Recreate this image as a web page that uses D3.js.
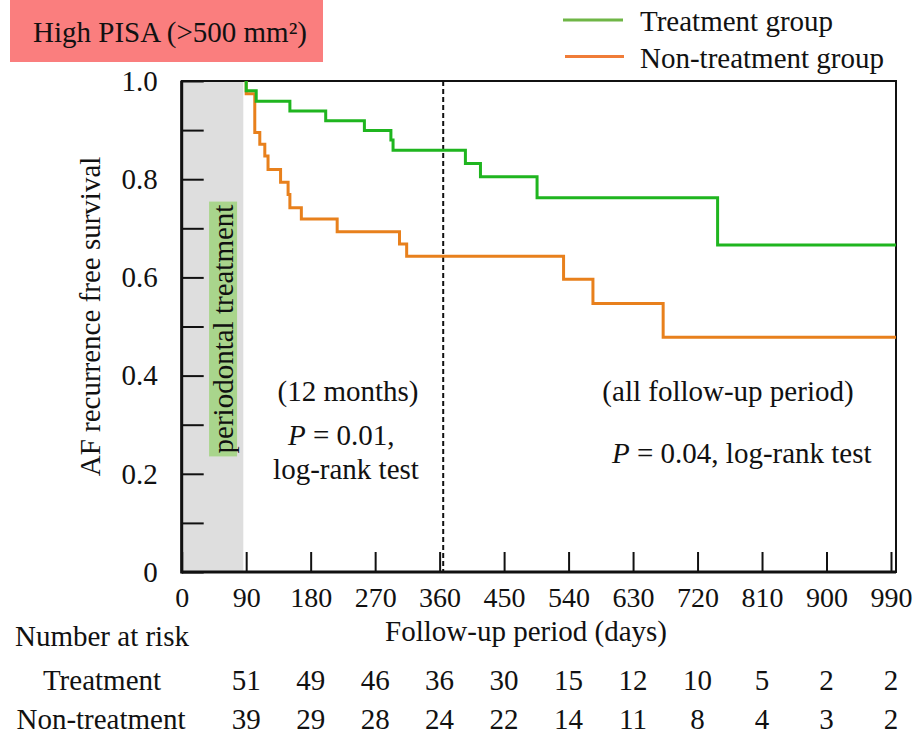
<!DOCTYPE html>
<html>
<head>
<meta charset="utf-8">
<script src="https://cdn.jsdelivr.net/npm/d3@7"></script>
<style>
  html, body { margin: 0; padding: 0; background: #fff; }
  svg text { font-family: "Liberation Serif", "Times New Roman", serif; fill: #111; }
</style>
</head>
<body>
<svg id="chart" width="914" height="735"></svg>
<script>
// Kaplan–Meier step points: [day, survival]
const treatmentSteps = [
  [90, 1.0], [90, 0.980], [104, 0.959], [151, 0.939], [201, 0.919],
  [255, 0.899], [292, 0.880], [295, 0.859], [396, 0.832], [417, 0.805],
  [496, 0.762], [748, 0.666], [997, 0.666]
];
const nonTreatmentSteps = [
  [90, 1.0], [90, 0.974], [102, 0.895], [109, 0.871], [116, 0.847],
  [120.5, 0.820], [138, 0.794], [148.5, 0.769], [151, 0.742], [167, 0.719],
  [217, 0.693], [304, 0.668], [314, 0.643], [533, 0.596], [574, 0.547],
  [672, 0.478], [997, 0.478]
];

// Axis ticks
const xTickValues = [0, 90, 180, 270, 360, 450, 540, 630, 720, 810, 900, 990];
const yTickValues = [0, 0.1, 0.2, 0.3, 0.4, 0.5, 0.6, 0.7, 0.8, 0.9, 1.0];

// Number at risk table
const riskTimes = [90, 180, 270, 360, 450, 540, 630, 720, 810, 900, 990];
const riskTreatment = [51, 49, 46, 36, 30, 15, 12, 10, 5, 2, 2];
const riskNonTreatment = [39, 29, 28, 24, 22, 14, 11, 8, 4, 3, 2];

// Periods
const followUpEnd = 997;
const periodontalEnd = 86;
const twelveMonths = 365;

const svg = d3.select("#chart");
const FS = 29;
const TICK_FS = 28;

const x = d3.scaleLinear().domain([0, followUpEnd]).range([181.7, 896]);
const y = d3.scaleLinear().domain([0, 1]).range([572, 81]);

const GREEN = "#1fb51f";
const ORANGE = "#e8801c";

// Title badge
const title = svg.append("g");
title.append("rect").attr("x", 10).attr("y", 0).attr("width", 313).attr("height", 62)
  .attr("fill", "#fa7e7e");
title.append("text").attr("x", 33).attr("y", 42).attr("font-size", FS)
  .text("High PISA (>500 mm²)");

// Legend
const legendItems = [
  { label: "Treatment group", color: "#6fb646" },
  { label: "Non-treatment group", color: "#f07c38" }
];
const legend = svg.append("g");
legendItems.forEach((d, i) => {
  const ly = 20 + i * 36.5;
  legend.append("line").attr("x1", 563 + i * 2).attr("x2", 623 + i * 1)
    .attr("y1", ly).attr("y2", ly).attr("stroke", d.color).attr("stroke-width", 3);
  legend.append("text").attr("x", 640).attr("y", ly + 11).attr("font-size", FS).text(d.label);
});

// Periodontal treatment period shading
svg.append("rect")
  .attr("x", x(0)).attr("y", y(1))
  .attr("width", x(periodontalEnd) - x(0)).attr("height", y(0) - y(1))
  .attr("fill", "#dedede");

// Vertical label for the treatment period
const pLabel = svg.append("g");
const labelPos = `translate(${(x(0) + x(periodontalEnd)) / 2 + 11},${329}) rotate(-90)`;
const pText = pLabel.append("text")
  .attr("transform", labelPos)
  .attr("text-anchor", "middle").attr("font-size", FS)
  .attr("dy", "0.33em")
  .text("periodontal treatment");
const bb = pText.node().getBBox();
pLabel.insert("rect", "text")
  .attr("transform", labelPos)
  .attr("x", bb.x - 3).attr("y", bb.y + 2).attr("width", bb.width + 6).attr("height", bb.height - 4)
  .attr("fill", "#a9d58c");

// Y axis with inward ticks
svg.append("g")
  .attr("transform", `translate(${x(0)},0)`)
  .call(d3.axisLeft(y).tickValues(yTickValues).tickSize(-22).tickPadding(24)
    .tickFormat(v => {
      const k = Math.round(v * 10);
      if (k % 2 !== 0) return "";
      return k === 0 ? "0" : d3.format(".1f")(v);
    }))
  .call(g => g.select(".domain").remove())
  .call(g => g.selectAll(".tick line").attr("stroke", "#111").attr("stroke-width", 2))
  .call(g => g.selectAll(".tick text").attr("font-size", FS)
    .attr("font-family", "Liberation Serif").attr("fill", "#111"));

// X axis with inward ticks
svg.append("g")
  .attr("transform", `translate(0,${y(0)})`)
  .call(d3.axisBottom(x).tickValues(xTickValues).tickSize(-20).tickPadding(15))
  .call(g => g.select(".domain").remove())
  .call(g => g.selectAll(".tick line").attr("stroke", "#111").attr("stroke-width", 2))
  .call(g => g.selectAll(".tick text").attr("font-size", TICK_FS)
    .attr("font-family", "Liberation Serif").attr("fill", "#111"));

// Plot frame
svg.append("rect")
  .attr("x", x(0)).attr("y", y(1))
  .attr("width", x(followUpEnd) - x(0)).attr("height", y(0) - y(1))
  .attr("fill", "none").attr("stroke", "#111").attr("stroke-width", 2);
svg.append("line").attr("x1", x(0)).attr("x2", x(0)).attr("y1", y(1)).attr("y2", y(0) + 1.5)
  .attr("stroke", "#111").attr("stroke-width", 3);
svg.append("line").attr("x1", x(0)).attr("x2", x(followUpEnd)).attr("y1", y(0)).attr("y2", y(0))
  .attr("stroke", "#111").attr("stroke-width", 3);

// 12-month marker
svg.append("line")
  .attr("x1", x(twelveMonths)).attr("x2", x(twelveMonths))
  .attr("y1", y(1)).attr("y2", y(0))
  .attr("stroke", "#111").attr("stroke-width", 2).attr("stroke-dasharray", "5,3");

// Survival curves
const step = d3.line().x(d => x(d[0])).y(d => y(d[1])).curve(d3.curveStepAfter);
svg.append("path").datum(nonTreatmentSteps).attr("d", step)
  .attr("fill", "none").attr("stroke", ORANGE).attr("stroke-width", 3);
svg.append("path").datum(treatmentSteps).attr("d", step)
  .attr("fill", "none").attr("stroke", GREEN).attr("stroke-width", 3);

// Axis titles
svg.append("text")
  .attr("transform", `translate(100,${(y(0) + y(1)) / 2 - 10}) rotate(-90)`)
  .attr("text-anchor", "middle").attr("font-size", FS)
  .text("AF recurrence free survival");
svg.append("text").attr("x", 526).attr("y", 641).attr("text-anchor", "middle")
  .attr("font-size", FS).text("Follow-up period (days)");

// Annotations
function pLine(g, xPos, yPos, rest, anchor) {
  const t = g.append("text").attr("x", xPos).attr("y", yPos).attr("font-size", FS)
    .attr("text-anchor", anchor || "start");
  t.append("tspan").attr("font-style", "italic").text("P");
  t.append("tspan").text(rest);
}
const notes = svg.append("g");
notes.append("text").attr("x", 348).attr("y", 401).attr("text-anchor", "middle")
  .attr("font-size", FS).text("(12 months)");
pLine(notes, 288, 445, " = 0.01,");
notes.append("text").attr("x", 346).attr("y", 479).attr("text-anchor", "middle")
  .attr("font-size", FS).text("log-rank test");
notes.append("text").attr("x", 728).attr("y", 401).attr("text-anchor", "middle")
  .attr("font-size", FS).text("(all follow-up period)");
pLine(notes, 612, 463, " = 0.04, log-rank test");

// Number at risk
const risk = svg.append("g");
risk.append("text").attr("x", 15).attr("y", 646).attr("font-size", FS).text("Number at risk");
const rows = [
  { name: "Treatment", values: riskTreatment, yPos: 690, cx: 102 },
  { name: "Non-treatment", values: riskNonTreatment, yPos: 729, cx: 101 }
];
rows.forEach(r => {
  risk.append("text").attr("x", r.cx).attr("y", r.yPos).attr("text-anchor", "middle")
    .attr("font-size", FS).text(r.name);
  risk.selectAll(null).data(riskTimes).enter().append("text")
    .attr("x", d => x(d)).attr("y", r.yPos).attr("text-anchor", "middle")
    .attr("font-size", FS).text((d, i) => r.values[i]);
});
</script>
</body>
</html>
